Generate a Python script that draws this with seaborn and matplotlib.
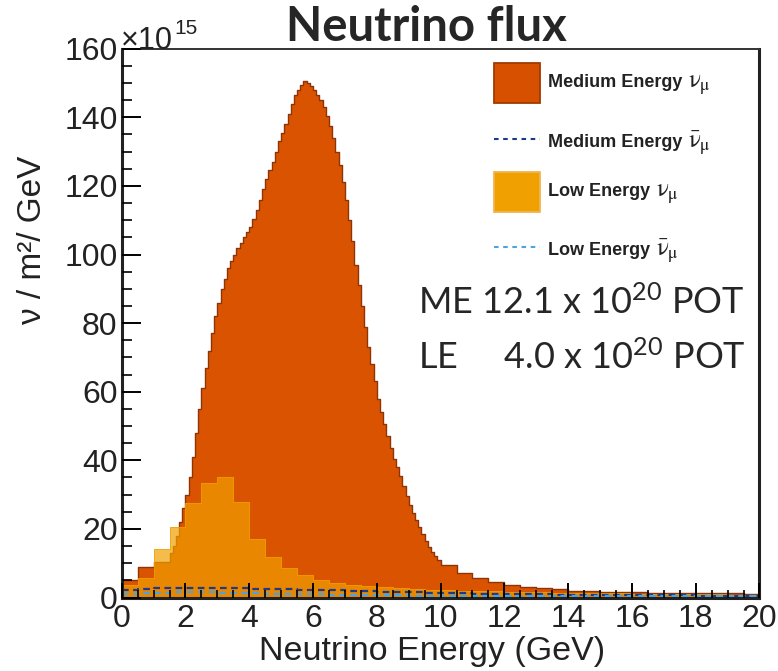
import numpy as np
import pandas as pd
import matplotlib
matplotlib.use("Agg")
import matplotlib.pyplot as plt
import seaborn as sns
from matplotlib.patches import Rectangle
from matplotlib.lines import Line2D
from matplotlib.ticker import MultipleLocator

# ---------------- data (flux in units of 1e15 nu / m^2 / GeV) ----------------
# Medium Energy nu_mu : variable binning
me_low_edges = [0.0, 0.5, 1.0, 1.5]
me_low_flux = [5.1, 9.0, 10.5]
me_fine_flux = [  # 0.1 GeV bins from 1.5 to 10.0 GeV
    13, 15, 18, 22, 26,
    30, 35, 41, 48, 55, 61, 67, 72, 77, 82,
    86, 90, 93, 96, 98, 100, 102, 103.5, 105, 106.5,
    108, 110.5, 113, 116, 119, 122, 124.5, 127, 130, 133,
    135.5, 138, 141, 144, 146.5, 148, 149.5, 150.5, 150, 149,
    148, 146.5, 145, 143, 140.5, 137.5, 134, 130, 126, 121,
    116, 110, 104, 97, 91, 85, 79, 73, 68, 63,
    58, 54, 50.5, 47, 43.5, 40.5, 38, 35.5, 32.5, 29.5,
    27, 24.5, 22.5, 20.5, 18.5, 16.5, 14.7, 13.2, 12.0, 10.8,
]
me_tail_flux = [  # 0.5 GeV bins from 10 to 20 GeV
    9.5, 7.2, 5.6, 4.6, 3.6, 3.1, 2.7, 2.4, 2.0, 1.8,
    1.7, 1.6, 1.5, 1.45, 1.4, 1.35, 1.3, 1.25, 1.2, 1.15,
]

# Low Energy nu_mu : 0.5 GeV bins 0-20 GeV
le_flux = [
    3.6, 5.6, 14.1, 20.6, 27.5, 33.5, 35.0, 27.9, 17.0, 11.9,
    8.5, 6.6, 5.0, 4.2, 3.7, 3.3, 3.0, 2.8, 2.5, 2.3,
    2.1, 2.0, 1.9, 1.8, 1.7, 1.6, 1.5, 1.4, 1.35, 1.3,
    1.25, 1.2, 1.15, 1.1, 1.05, 1.0, 0.95, 0.9, 0.85, 0.8,
]
# antineutrino components, 0.5 GeV bins
me_nubar_flux = [
    2.2, 2.6, 2.7, 2.7, 2.8, 2.8, 2.7, 2.7, 2.6, 2.5,
    2.4, 2.3, 2.2, 2.1, 2.0, 1.9, 1.7, 1.6, 1.5, 1.4,
    1.3, 1.2, 1.15, 1.1, 1.0, 0.95, 0.9, 0.85, 0.8, 0.8,
    0.75, 0.7, 0.7, 0.65, 0.6, 0.6, 0.55, 0.55, 0.5, 0.5,
]
le_nubar_flux = [
    1.0, 1.3, 1.4, 1.5, 1.5, 1.5, 1.4, 1.3, 1.2, 1.1,
    1.0, 0.9, 0.9, 0.8, 0.7, 0.7, 0.6, 0.6, 0.55, 0.5,
    0.5, 0.48, 0.46, 0.44, 0.42, 0.4, 0.4, 0.38, 0.36, 0.35,
    0.34, 0.33, 0.32, 0.31, 0.3, 0.3, 0.3, 0.3, 0.3, 0.3,
]

x_ticks = [0, 2, 4, 6, 8, 10, 12, 14, 16, 18, 20]
y_ticks = [0, 20, 40, 60, 80, 100, 120, 140, 160]

legend_names = ["Medium Energy", "Medium Energy", "Low Energy", "Low Energy"]
legend_symbols = [r"$\mathrm{\nu}_{\mathrm{\mu}}$", r"$\bar{\mathrm{\nu}}_{\mathrm{\mu}}$",
                  r"$\mathrm{\nu}_{\mathrm{\mu}}$", r"$\bar{\mathrm{\nu}}_{\mathrm{\mu}}$"]

# ---------------- bin edges ----------------
me_edges = np.concatenate([
    me_low_edges,
    np.round(np.arange(1.6, 10.0001, 0.1), 2),
    np.round(np.arange(10.5, 20.0001, 0.5), 2),
])
me_flux = np.array(me_low_flux + me_fine_flux + me_tail_flux, dtype=float)
wide_edges = np.round(np.arange(0, 20.0001, 0.5), 2)


def centers(edges):
    e = np.asarray(edges)
    return 0.5 * (e[:-1] + e[1:])


df_me = pd.DataFrame({"E": centers(me_edges), "flux": me_flux})
df_le = pd.DataFrame({"E": centers(wide_edges), "flux": le_flux})
df_mebar = pd.DataFrame({"E": centers(wide_edges), "flux": me_nubar_flux})
df_lebar = pd.DataFrame({"E": centers(wide_edges), "flux": le_nubar_flux})

me_bins = [float(v) for v in me_edges]
wide_bins = [float(v) for v in wide_edges]

# ---------------- style ----------------
sns.set_style("ticks")
plt.rcParams["font.family"] = ["Liberation Sans", "DejaVu Sans"]
plt.rcParams["mathtext.fontset"] = "custom"
plt.rcParams["mathtext.rm"] = "Lato"
plt.rcParams["mathtext.it"] = "Lato:italic"
plt.rcParams["mathtext.bf"] = "Lato:bold"

ME_COL = "#d95300"
ME_EDGE = "#8e3508"
LE_COL = "#f0a000"
MEBAR_COL = "#1b3a8c"
LEBAR_COL = "#4ea3de"
TXT = "#222222"

W, H = 778, 671
fig = plt.figure(figsize=(W / 100, H / 100), dpi=100)
ax = fig.add_axes([0.1564, 0.1095, 0.8198, 0.8179])


def fx(x):
    return x / W


def fy(y):
    return 1 - y / H


sns.histplot(data=df_me, x="E", weights="flux", bins=me_bins, element="step",
             fill=True, color=ME_COL, alpha=1.0, edgecolor=ME_EDGE,
             linewidth=1.0, ax=ax)
sns.histplot(data=df_le, x="E", weights="flux", bins=wide_bins, element="step",
             fill=True, color=LE_COL, alpha=0.7, edgecolor=LE_COL,
             linewidth=0.6, ax=ax)
sns.histplot(data=df_mebar, x="E", weights="flux", bins=wide_bins, element="step",
             fill=False, color=MEBAR_COL, linestyle=(0, (3, 2)), linewidth=1.6, ax=ax)
sns.histplot(data=df_lebar, x="E", weights="flux", bins=wide_bins, element="step",
             fill=False, color=LEBAR_COL, linestyle=(0, (3, 2)), linewidth=1.6, ax=ax)

ax.set_xlim(0, 20)
ax.set_ylim(0, 160)
ax.set_xticks(x_ticks)
ax.set_yticks(y_ticks)
ax.xaxis.set_minor_locator(MultipleLocator(0.5))
ax.yaxis.set_minor_locator(MultipleLocator(5))
ax.tick_params(axis="both", which="both", direction="in", colors="black",
               labelcolor=TXT)
ax.tick_params(axis="y", which="major", length=14, width=1.4, labelsize=23, pad=3)
ax.tick_params(axis="y", which="minor", length=7, width=1.2)
ax.tick_params(axis="x", which="major", length=11, width=1.4, labelsize=23, pad=5)
ax.tick_params(axis="x", which="minor", length=6, width=1.2)
for side in ["left", "bottom", "right"]:
    ax.spines[side].set_linewidth(2.2)
    ax.spines[side].set_color(TXT)
ax.spines["top"].set_linewidth(1.4)
ax.spines["top"].set_color("#333333")
ax.set_axisbelow(False)

ax.set_xlabel("Neutrino Energy (GeV)", fontsize=24.5, color=TXT)
ax.set_ylabel("ν / m²/ GeV", fontsize=24, color=TXT)
ax.yaxis.set_label_coords(-0.116, 0.651)
ax.xaxis.set_label_coords(0.487, -0.07)

fig.text(fx(426), fy(41), "Neutrino flux", fontsize=34, fontweight="bold",
         family=["Lato", "DejaVu Sans"], ha="center", va="baseline")

fig.text(fx(418), fy(302), r"ME 12.1 x 10$^{20}$ POT", fontsize=26,
         family=["Lato", "DejaVu Sans"], ha="left", va="center")
fig.text(fx(418), fy(357), r"LE     4.0 x 10$^{20}$ POT", fontsize=26,
         family=["Lato", "DejaVu Sans"], ha="left", va="center")

# ---------------- legend (drawn in figure pixel coordinates) ----------------
fig.add_artist(Rectangle((fx(494), fy(103)), 46 / W, 40 / H, transform=fig.transFigure,
                         facecolor="#d65000", edgecolor="#a03a00", linewidth=1.3))
fig.add_artist(Line2D([fx(494), fx(540)], [fy(139), fy(139)], transform=fig.transFigure,
                      color=MEBAR_COL, linestyle=(0, (2.2, 2.2)), linewidth=1.5))
fig.add_artist(Rectangle((fx(494), fy(212)), 46 / W, 40 / H, transform=fig.transFigure,
                         facecolor=LE_COL, edgecolor="#f2b450", linewidth=1.3))
fig.add_artist(Line2D([fx(494), fx(540)], [fy(247), fy(247)], transform=fig.transFigure,
                      color=LEBAR_COL, linestyle=(0, (2.2, 2.2)), linewidth=1.5))

fig.canvas.draw()
renderer = fig.canvas.get_renderer()

# exponent of the y axis
t10 = fig.text(fx(121), fy(49), "×10", fontsize=22, color=TXT, va="baseline", ha="left")
bb10 = t10.get_window_extent(renderer=renderer)
fig.text(fx(bb10.x1 + 1), fy(34), "15", fontsize=15, color=TXT, va="baseline", ha="left")

baselines = [87, 147, 196, 255]
for name, sym, yb in zip(legend_names, legend_symbols, baselines):
    t = fig.text(fx(548), fy(yb), name, fontsize=13, fontweight="bold", color=TXT,
                 ha="left", va="baseline")
    bb = t.get_window_extent(renderer=renderer)
    fig.text(fx(bb.x1 + 6), fy(yb + 1), sym, fontsize=18, color=TXT,
             math_fontfamily="stix", ha="left", va="baseline")

fig.savefig("out.png", dpi=100)
